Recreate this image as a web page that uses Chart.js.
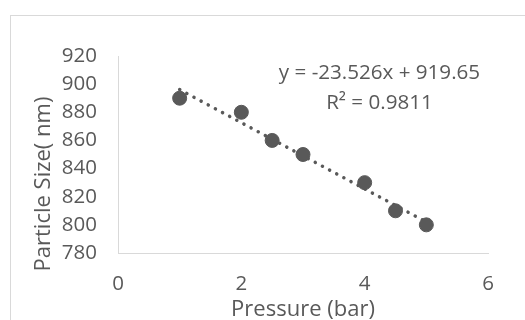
<!DOCTYPE html>
<html>
<head>
<meta charset="utf-8">
<script src="https://cdn.jsdelivr.net/npm/chart.js@4"></script>
<style>
  html, body { margin: 0; padding: 0; background: #fff; overflow: hidden; }
  #wrap { width: 525px; height: 320px; position: relative; }
</style>
</head>
<body>
<div id="wrap"><canvas id="myChart" width="525" height="320"></canvas></div>
<script>
// data
var pressure = [1, 2, 2.5, 3, 4, 4.5, 5]
var particleSize = [890, 880, 860, 850, 830, 810, 800]
var xTicks = [0, 2, 4, 6]
var yTicks = [780, 800, 820, 840, 860, 880, 900, 920]

// linear trendline as shown on the chart
var trendSlope = -23.526
var trendIntercept = 919.65
var trendLabel = ['y = -23.526x + 919.65', 'R\u00b2 = 0.9811']
var trendLabelAt = { x: 4.24, y: 907.5 }

var grey = '#595959'
var lightGrey = '#d9d9d9'
var fontFamily = '"Open Sans", sans-serif'

var points = pressure.map(function (p, i) { return { x: p, y: particleSize[i] } })
var xMin = Math.min.apply(null, pressure)
var xMax = Math.max.apply(null, pressure)
var trend = [
  { x: xMin, y: trendSlope * xMin + trendIntercept },
  { x: xMax, y: trendSlope * xMax + trendIntercept }
]

var extras = {
  id: 'extras',
  beforeDraw: function (chart) {
    var ctx = chart.ctx
    ctx.save()
    ctx.strokeStyle = lightGrey
    ctx.lineWidth = 1
    ctx.strokeRect(10.5, 15.5, 700, 500)
    ctx.restore()
  },
  afterDraw: function (chart) {
    var ctx = chart.ctx
    var xs = chart.scales.x, ys = chart.scales.y
    ctx.save()
    ctx.fillStyle = grey
    ctx.font = '20.6px ' + fontFamily
    ctx.textAlign = 'center'
    ctx.textBaseline = 'middle'
    var lx = xs.getPixelForValue(trendLabelAt.x)
    var ly = ys.getPixelForValue(trendLabelAt.y)
    ctx.fillText(trendLabel[0], lx, ly)
    ctx.fillText(trendLabel[1], lx, ly + 30)
    // y axis title (sits lower than the plot centre, as in the original)
    ctx.font = '22px ' + fontFamily
    ctx.translate(chart.chartArea.left - 74, chart.chartArea.bottom - 69)
    ctx.rotate(-Math.PI / 2)
    ctx.fillText('Particle Size( nm)', 0, 0)
    ctx.restore()
  }
}

var chart = new Chart(document.getElementById('myChart').getContext('2d'), {
  type: 'scatter',
  data: {
    datasets: [
      {
        label: 'Particle Size',
        data: points,
        backgroundColor: grey,
        borderColor: grey,
        pointRadius: 7,
        pointHoverRadius: 7,
        order: 1
      },
      {
        label: 'Linear trend',
        type: 'line',
        data: trend,
        showLine: true,
        borderColor: grey,
        borderWidth: 3.5,
        borderDash: [0.1, 8],
        borderCapStyle: 'round',
        pointRadius: 0,
        fill: false,
        order: 2
      }
    ]
  },
  options: {
    responsive: false,
    animation: false,
    events: [],
    layout: { padding: { top: 56, right: 37, left: 0, bottom: 0 } },
    plugins: {
      legend: { display: false },
      tooltip: { enabled: false }
    },
    scales: {
      x: {
        type: 'linear',
        min: xTicks[0],
        max: xTicks[xTicks.length - 1],
        afterBuildTicks: function (scale) { scale.ticks = xTicks.map(function (v) { return { value: v } }) },
        afterFit: function (scale) { scale.height = 67 },
        grid: { display: false, drawTicks: false },
        border: { display: true, color: lightGrey, width: 1 },
        ticks: { color: grey, font: { family: fontFamily, size: 20.5 }, padding: 19, maxRotation: 0 },
        title: {
          display: true,
          text: 'Pressure (bar)',
          color: grey,
          font: { family: fontFamily, size: 22, lineHeight: 1 },
          padding: { top: 0, bottom: -1 }
        }
      },
      y: {
        type: 'linear',
        min: yTicks[0],
        max: yTicks[yTicks.length - 1],
        afterBuildTicks: function (scale) { scale.ticks = yTicks.map(function (v) { return { value: v } }) },
        afterFit: function (scale) { scale.width = 118 },
        grid: { display: false, drawTicks: false },
        border: { display: true, color: lightGrey, width: 1 },
        ticks: { color: grey, font: { family: fontFamily, size: 20.5 }, padding: 21 }
      }
    }
  },
  plugins: [extras]
})
</script>
</body>
</html>
